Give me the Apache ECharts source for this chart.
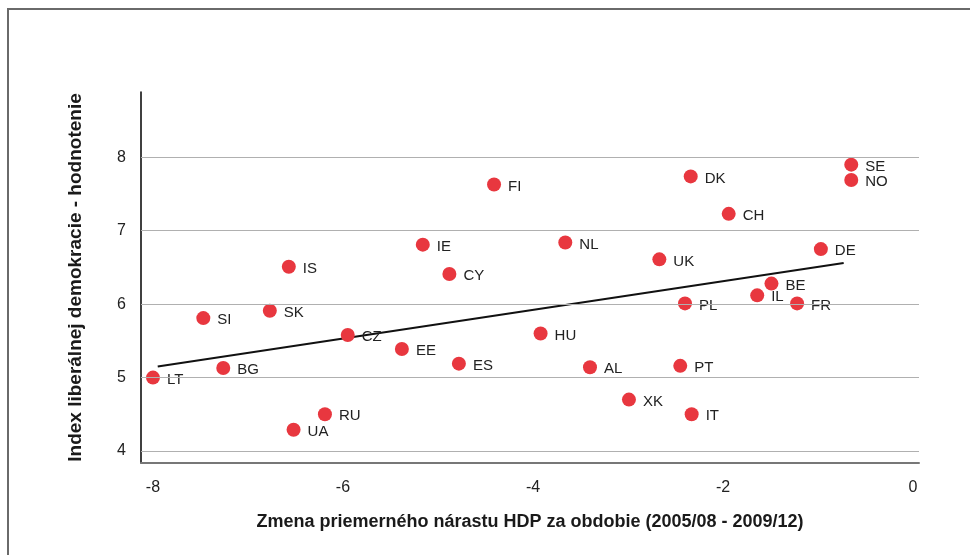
<!DOCTYPE html>
<html>
<head>
<meta charset="utf-8">
<title>HDP a liberálna demokracia</title>
<script src="https://cdn.jsdelivr.net/npm/echarts@6/dist/echarts.min.js"></script>
<style>
  html, body { margin: 0; padding: 0; background: #fff; }
  #chart { width: 970px; height: 555px; }
</style>
</head>
<body>
<div id="chart"></div>
<script>
// krajiny a hodnoty odčítané z grafu
var countries = ['LT', 'SI', 'SK', 'IS', 'BG', 'CZ', 'UA', 'RU', 'FI', 'IE', 'CY', 'NL', 'UK', 'HU', 'EE',
    'ES', 'AL', 'XK', 'IT', 'PT', 'DK', 'SE', 'NO', 'CH', 'DE', 'BE', 'IL', 'FR', 'PL'];
var gdpChange = [-8.0, -7.47, -6.77, -6.57, -7.26, -5.95, -6.52, -6.19, -4.41, -5.16, -4.88, -3.66, -2.67, -3.92, -5.38,
    -4.78, -3.40, -2.99, -2.33, -2.45, -2.34, -0.65, -0.65, -1.94, -0.97, -1.49, -1.64, -1.22, -2.40];
var democracyIndex = [5.0, 5.81, 5.91, 6.51, 5.13, 5.58, 4.29, 4.50, 7.63, 6.81, 6.41, 6.84, 6.61, 5.60, 5.39,
    5.19, 5.14, 4.70, 4.50, 5.16, 7.74, 7.90, 7.69, 7.23, 6.75, 6.28, 6.12, 6.01, 6.01];

// lineárny trend (koncové body)
var trendX = [-7.95, -0.73];
var trendY = [5.15, 6.56];

var xTicks = [-8, -6, -4, -2, 0];
var yTicks = [4, 5, 6, 7, 8];

var points = [];
for (var i = 0; i < countries.length; i++) {
    points.push([gdpChange[i], democracyIndex[i], countries[i]]);
}
var trend = [];
for (var j = 0; j < trendX.length; j++) {
    trend.push([trendX[j], trendY[j]]);
}
var gridLines = [];
for (var k = 0; k < yTicks.length; k++) {
    gridLines.push({yAxis: yTicks[k]});
}

var font = 'Liberation Sans, Arial, sans-serif';
var chart = echarts.init(document.getElementById('chart'));

chart.setOption({
    animation: false,
    textStyle: {fontFamily: font},
    graphic: [{
        type: 'rect',
        shape: {x: 8, y: 9, width: 990, height: 580},
        style: {fill: 'none', stroke: '#6a6a6a', lineWidth: 2},
        silent: true
    }],
    grid: {left: 141, top: 92, width: 778, height: 371},
    xAxis: {
        type: 'value',
        min: -8.126,
        max: 0.063,
        name: 'Zmena priemerného nárastu HDP za obdobie (2005/08 - 2009/12)',
        nameLocation: 'middle',
        nameGap: 50,
        nameTextStyle: {fontFamily: font, fontSize: 18, fontWeight: 'bold', color: '#1a1a1a'},
        axisLine: {onZero: false, lineStyle: {color: '#777', width: 2}},
        axisTick: {show: false},
        splitLine: {show: false},
        axisLabel: {
            customValues: xTicks,
            margin: 17,
            fontSize: 16,
            color: '#222',
            fontFamily: font
        }
    },
    yAxis: {
        type: 'value',
        min: 3.837,
        max: 8.889,
        name: 'Index liberálnej demokracie - hodnotenie',
        nameLocation: 'middle',
        nameGap: 56,
        nameTextStyle: {fontFamily: font, fontSize: 19, fontWeight: 'bold', color: '#1a1a1a'},
        axisLine: {show: true, onZero: false, lineStyle: {color: '#000', width: 1.5}},
        axisTick: {show: false},
        splitLine: {show: false},
        axisLabel: {
            customValues: yTicks,
            margin: 15,
            fontSize: 16,
            color: '#222',
            fontFamily: font
        }
    },
    series: [{
        type: 'line',
        data: trend,
        symbol: 'none',
        lineStyle: {color: '#111', width: 2},
        silent: true,
        z: 3,
        markLine: {
            silent: true,
            symbol: 'none',
            label: {show: false},
            lineStyle: {color: '#b0b0b0', width: 1.2, type: 'solid'},
            data: gridLines
        }
    }, {
        type: 'scatter',
        data: points,
        symbolSize: 14,
        itemStyle: {color: '#e8373f', opacity: 1},
        z: 4,
        label: {
            show: true,
            position: 'right',
            distance: 7,
            offset: [0, 2],
            formatter: function (p) {
                return p.data[2];
            },
            fontSize: 15,
            color: '#222',
            fontFamily: font
        }
    }]
});
</script>
</body>
</html>
